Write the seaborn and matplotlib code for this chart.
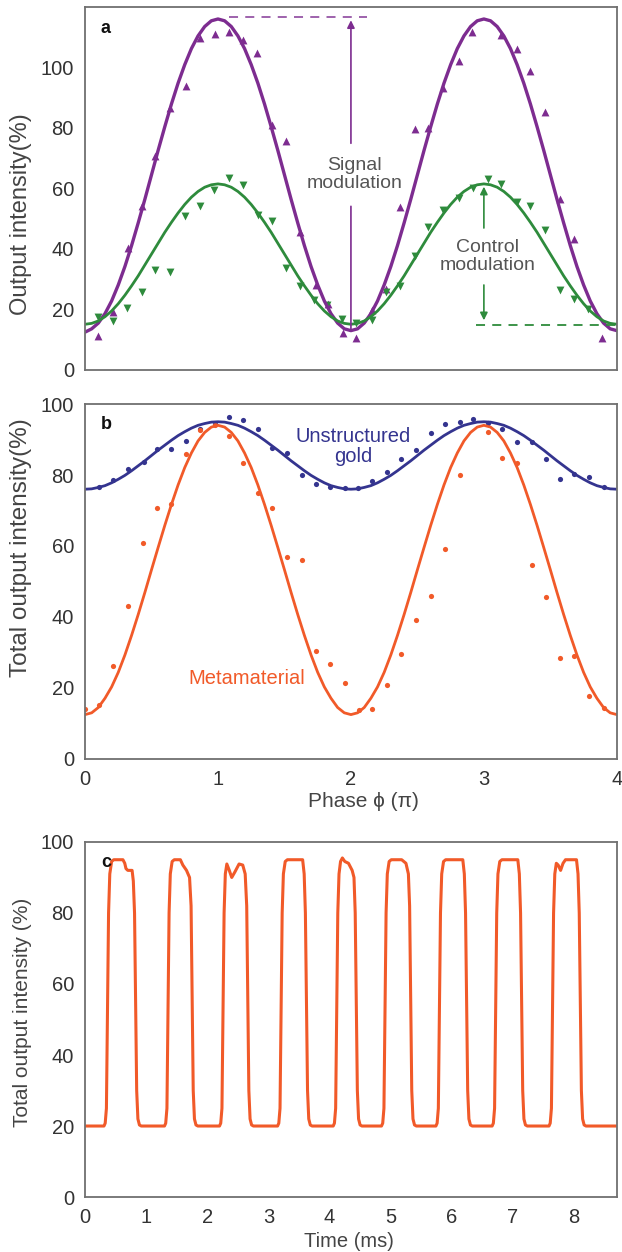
import matplotlib
matplotlib.use('Agg')
import matplotlib.pyplot as plt
import seaborn as sns

# ---- data ----
# panel a / b fitted curves, sampled every 0.05 pi
phase_fit = [0.00, 0.05, 0.10, 0.15, 0.20, 0.25, 0.30, 0.35, 0.40, 0.45,
             0.50, 0.55, 0.60, 0.65, 0.70, 0.75, 0.80, 0.85, 0.90, 0.95,
             1.00, 1.05, 1.10, 1.15, 1.20, 1.25, 1.30, 1.35, 1.40, 1.45,
             1.50, 1.55, 1.60, 1.65, 1.70, 1.75, 1.80, 1.85, 1.90, 1.95,
             2.00, 2.05, 2.10, 2.15, 2.20, 2.25, 2.30, 2.35, 2.40, 2.45,
             2.50, 2.55, 2.60, 2.65, 2.70, 2.75, 2.80, 2.85, 2.90, 2.95,
             3.00, 3.05, 3.10, 3.15, 3.20, 3.25, 3.30, 3.35, 3.40, 3.45,
             3.50, 3.55, 3.60, 3.65, 3.70, 3.75, 3.80, 3.85, 3.90, 3.95, 4.00]
signal_fit = [12.5, 13.6, 15.5, 18.6, 22.8, 28.1, 34.2, 41.1, 48.6, 56.4,
              64.5, 72.6, 80.4, 87.9, 94.8, 100.9, 106.2, 110.4, 113.5, 115.4,
              116.0, 115.4, 113.5, 110.4, 106.2, 100.9, 94.8, 87.9, 80.4, 72.6,
              64.5, 56.4, 48.6, 41.1, 34.2, 28.1, 22.8, 18.6, 15.5, 13.6,
              13.0, 13.6, 15.5, 18.6, 22.8, 28.1, 34.2, 41.1, 48.6, 56.4,
              64.5, 72.6, 80.4, 87.9, 94.8, 100.9, 106.2, 110.4, 113.5, 115.4,
              116.0, 115.4, 113.5, 110.4, 106.2, 100.9, 94.8, 87.9, 80.4, 72.6,
              64.5, 56.4, 48.6, 41.1, 34.2, 28.1, 22.8, 18.6, 15.5, 13.6, 13.0]
control_fit = [15.1, 15.4, 16.2, 17.6, 19.5, 21.9, 24.7, 27.8, 31.1, 34.7,
               38.3, 41.9, 45.5, 48.8, 51.9, 54.7, 57.1, 59.0, 60.4, 61.2,
               61.5, 61.2, 60.4, 59.0, 57.1, 54.7, 51.9, 48.8, 45.5, 41.9,
               38.3, 34.7, 31.1, 27.8, 24.7, 21.9, 19.5, 17.6, 16.2, 15.4,
               15.1, 15.4, 16.2, 17.6, 19.5, 21.9, 24.7, 27.8, 31.1, 34.7,
               38.3, 41.9, 45.5, 48.8, 51.9, 54.7, 57.1, 59.0, 60.4, 61.2,
               61.5, 61.2, 60.4, 59.0, 57.1, 54.7, 51.9, 48.8, 45.5, 41.9,
               38.3, 34.7, 31.1, 27.8, 24.7, 21.9, 19.5, 17.6, 16.2, 15.4, 15.1]
gold_fit = [76.0, 76.1, 76.5, 77.0, 77.8, 78.8, 79.9, 81.2, 82.6, 84.0,
            85.5, 87.0, 88.4, 89.8, 91.1, 92.2, 93.2, 94.0, 94.5, 94.9,
            95.0, 94.9, 94.5, 94.0, 93.2, 92.2, 91.1, 89.8, 88.4, 87.0,
            85.5, 84.0, 82.6, 81.2, 79.9, 78.8, 77.8, 77.0, 76.5, 76.1,
            76.0, 76.1, 76.5, 77.0, 77.8, 78.8, 79.9, 81.2, 82.6, 84.0,
            85.5, 87.0, 88.4, 89.8, 91.1, 92.2, 93.2, 94.0, 94.5, 94.9,
            95.0, 94.9, 94.5, 94.0, 93.2, 92.2, 91.1, 89.8, 88.4, 87.0,
            85.5, 84.0, 82.6, 81.2, 79.9, 78.8, 77.8, 77.0, 76.5, 76.1, 76.0]
meta_fit = [12.5, 13.0, 14.5, 17.1, 20.3, 24.4, 29.3, 34.8, 40.7, 46.9,
            53.3, 59.6, 65.8, 71.7, 77.2, 82.1, 86.2, 89.6, 92.0, 93.5,
            94.0, 93.5, 92.0, 89.6, 86.2, 82.1, 77.2, 71.7, 65.8, 59.6,
            53.3, 46.9, 40.7, 34.8, 29.3, 24.4, 20.3, 17.1, 14.5, 13.0,
            12.5, 13.0, 14.5, 17.1, 20.3, 24.4, 29.3, 34.8, 40.7, 46.9,
            53.3, 59.6, 65.8, 71.7, 77.2, 82.1, 86.2, 89.6, 92.0, 93.5,
            94.0, 93.5, 92.0, 89.6, 86.2, 82.1, 77.2, 71.7, 65.8, 59.6,
            53.3, 46.9, 40.7, 34.8, 29.3, 24.4, 20.3, 17.1, 14.5, 13.0, 12.5]

# panel a measured points
signal_x = [0.10, 0.21, 0.32, 0.43, 0.53, 0.64, 0.756, 0.864, 0.975, 1.086, 1.186, 1.297,
            1.41, 1.51, 1.62, 1.74, 1.83, 1.94, 2.04, 2.16, 2.26, 2.37, 2.48, 2.58,
            2.69, 2.81, 2.91, 3.13, 3.25, 3.35, 3.46, 3.57, 3.68, 3.89]
signal_y = [11.3, 19.0, 40.2, 54.3, 70.7, 86.6, 94.0, 109.6, 111.0, 111.8, 109.1, 104.7,
            81.1, 75.7, 45.5, 28.2, 21.9, 12.1, 10.4, 19.7, 26.9, 53.7, 79.5, 80.0,
            93.2, 102.2, 111.6, 110.8, 106.0, 98.7, 85.3, 56.5, 43.3, 10.4]
control_x = [0.10, 0.207, 0.315, 0.43, 0.53, 0.64, 0.75, 0.864, 0.97, 1.083, 1.19, 1.30,
             1.41, 1.51, 1.62, 1.725, 1.82, 1.93, 2.04, 2.16, 2.26, 2.37, 2.48, 2.58,
             2.69, 2.81, 2.92, 3.03, 3.13, 3.25, 3.35, 3.46, 3.57, 3.68, 3.78]
control_y = [17.5, 16.1, 20.5, 25.8, 32.9, 32.3, 51.0, 54.3, 59.5, 63.4, 61.1, 51.2,
             49.3, 33.7, 27.7, 23.0, 21.6, 16.7, 15.4, 16.5, 25.8, 27.7, 37.8, 47.4,
             53.0, 56.7, 60.3, 63.1, 61.4, 55.4, 54.1, 46.1, 26.3, 23.3, 20.3]

# panel b measured points
gold_x = [0.108, 0.214, 0.32, 0.446, 0.54, 0.647, 0.76, 0.864, 0.975, 1.086, 1.19, 1.30,
          1.41, 1.52, 1.63, 1.74, 1.84, 1.955, 2.055, 2.16, 2.27, 2.38, 2.49, 2.60,
          2.71, 2.82, 2.92, 3.03, 3.14, 3.25, 3.36, 3.47, 3.57, 3.68, 3.79, 3.90]
gold_y = [76.5, 78.6, 81.8, 83.8, 87.2, 87.3, 89.6, 92.9, 94.4, 96.4, 95.5, 93.0,
          87.7, 86.1, 80.0, 77.4, 76.5, 76.3, 76.3, 78.3, 80.8, 84.6, 87.0, 91.7,
          94.3, 95.0, 95.7, 94.7, 92.9, 89.4, 89.2, 84.4, 78.9, 80.2, 79.4, 76.5]
meta_x = [0.0, 0.108, 0.214, 0.32, 0.436, 0.54, 0.647, 0.76, 0.864, 0.98, 1.086, 1.19,
          1.30, 1.41, 1.52, 1.63, 1.74, 1.84, 1.955, 2.06, 2.16, 2.27, 2.38, 2.49,
          2.60, 2.71, 2.82, 3.03, 3.14, 3.25, 3.36, 3.47, 3.57, 3.68, 3.79, 3.90]
meta_y = [14.1, 15.3, 26.3, 43.2, 60.8, 70.6, 71.9, 85.9, 92.7, 94.1, 91.0, 83.5,
          74.9, 70.6, 57.0, 56.1, 30.5, 26.8, 21.4, 13.9, 14.2, 20.9, 29.5, 39.2,
          46.0, 59.1, 80.0, 92.2, 84.7, 83.3, 54.7, 45.6, 28.4, 29.1, 17.6, 14.4]

# panel c time trace
time_ms = [0.00, 0.31, 0.33, 0.35, 0.385, 0.405, 0.435, 0.47, 0.62, 0.65, 0.67, 0.70, 0.77,
           0.79, 0.81, 0.845, 0.865, 0.89, 0.92,
           1.30, 1.32, 1.34, 1.375, 1.395, 1.425, 1.46, 1.56, 1.60, 1.66, 1.71, 1.735,
           1.77, 1.79, 1.815, 1.845,
           2.20, 2.22, 2.24, 2.275, 2.295, 2.32, 2.36, 2.40, 2.45, 2.52, 2.58, 2.62,
           2.645, 2.68, 2.70, 2.725, 2.755,
           3.15, 3.17, 3.19, 3.225, 3.245, 3.275, 3.31, 3.56, 3.585, 3.605, 3.64, 3.66,
           3.685, 3.715,
           4.06, 4.08, 4.10, 4.135, 4.155, 4.18, 4.21, 4.25, 4.31, 4.37, 4.40, 4.42,
           4.455, 4.475, 4.50, 4.53,
           4.85, 4.87, 4.89, 4.925, 4.945, 4.975, 5.01, 5.18, 5.25, 5.29, 5.31, 5.345,
           5.365, 5.39, 5.42,
           5.74, 5.76, 5.78, 5.815, 5.835, 5.865, 5.90, 6.18, 6.205, 6.225, 6.26, 6.28,
           6.305, 6.335,
           6.66, 6.68, 6.70, 6.735, 6.755, 6.785, 6.82, 7.08, 7.105, 7.125, 7.16, 7.18,
           7.205, 7.235,
           7.59, 7.61, 7.63, 7.665, 7.685, 7.71, 7.74, 7.78, 7.82, 7.86, 8.04, 8.065,
           8.085, 8.12, 8.14, 8.165, 8.195, 8.70]
trace_pct = [20, 20, 20.8, 25, 80, 91, 94.5, 95, 95, 94, 92.5, 92, 92,
             89, 80, 30, 22, 20.3, 20,
             20, 20.8, 25, 80, 91, 94.5, 95, 95, 93.5, 92, 90, 82,
             30, 22, 20.3, 20,
             20, 20.8, 25, 80, 91, 93.8, 92, 90, 91.5, 93.8, 93.5, 91,
             82, 30, 22, 20.3, 20,
             20, 20.8, 25, 80, 91, 94.5, 95, 95, 91, 80, 30, 22,
             20.3, 20,
             20, 20.8, 25, 80, 91, 94.5, 95.5, 94.5, 94, 92, 90, 80,
             30, 22, 20.3, 20,
             20, 20.8, 25, 80, 91, 94.5, 95, 95, 94, 91, 82, 30,
             22, 20.3, 20,
             20, 20.8, 25, 80, 91, 94.5, 95, 95, 91, 80, 30, 22,
             20.3, 20,
             20, 20.8, 25, 80, 91, 94.5, 95, 95, 91, 80, 30, 22,
             20.3, 20,
             20, 20.8, 25, 80, 91, 94, 93.5, 92, 94, 95, 95, 91,
             80, 30, 22, 20.3, 20, 20]

# annotation levels (panel a)
signal_top, signal_low = 116.5, 12.5
control_top, control_low = 61.5, 15.0

purple = '#7d2c90'
green = '#2e8b3c'
blue = '#34348f'
orange = '#f15a29'
grey = '#444444'

sns.set_theme(style='white')
plt.rcParams['font.family'] = ['Liberation Sans', 'DejaVu Sans']
plt.rcParams['axes.edgecolor'] = '#707070'
plt.rcParams['axes.linewidth'] = 1.3
plt.rcParams['xtick.color'] = '#707070'
plt.rcParams['xtick.labelcolor'] = '#333333'
plt.rcParams['ytick.labelcolor'] = '#333333'

fig = plt.figure(figsize=(6.22, 12.52), dpi=100)
ax_a = fig.add_axes([0.1367, 0.7045, 0.855, 0.290])
ax_b = fig.add_axes([0.1367, 0.3938, 0.855, 0.2835])
ax_c = fig.add_axes([0.1367, 0.0439, 0.855, 0.2836])

for ax in (ax_a, ax_b, ax_c):
    ax.tick_params(axis='x', direction='in', length=4, width=1.2, pad=8, labelsize=14.5)
    ax.tick_params(axis='y', length=0, pad=8, labelsize=14.5)
    for s in ax.spines.values():
        s.set_visible(True)

# ---- panel a ----
sns.lineplot(x=phase_fit, y=signal_fit, ax=ax_a, color=purple, lw=2.4)
sns.lineplot(x=phase_fit, y=control_fit, ax=ax_a, color=green, lw=2.0)
sns.scatterplot(x=signal_x, y=signal_y, ax=ax_a, color=purple, marker='^', s=32, linewidth=0)
sns.scatterplot(x=control_x, y=control_y, ax=ax_a, color=green, marker='v', s=32, linewidth=0)
ax_a.set_xlim(0, 4)
ax_a.set_ylim(0, 120)
ax_a.set_xticks([1, 2, 3])
ax_a.set_xticklabels([])
ax_a.set_yticks([0, 20, 40, 60, 80, 100])
ax_a.set_ylabel('Output intensity(%)', fontsize=17, color=grey)
ax_a.yaxis.set_label_coords(-0.1, 0.43)

ax_a.hlines(signal_top, 1.08, 2.12, colors=purple, linestyles=(0, (5, 4)), lw=1.3, alpha=0.8)
ax_a.annotate('', xy=(2.0, signal_top), xytext=(2.0, 74),
              arrowprops=dict(arrowstyle='-|>', color=purple, lw=1.2, mutation_scale=11))
ax_a.annotate('', xy=(2.0, signal_low), xytext=(2.0, 55),
              arrowprops=dict(arrowstyle='-', color=purple, lw=1.2))
ax_a.text(2.03, 64.5, 'Signal\nmodulation', ha='center', va='center', fontsize=14,
          color='#555555', linespacing=1.1)

ax_a.hlines(control_low, 2.94, 4.0, colors=green, linestyles=(0, (5, 4)), lw=1.3)
ax_a.annotate('', xy=(3.0, control_top), xytext=(3.0, 46),
              arrowprops=dict(arrowstyle='-|>', color=green, lw=1.2, mutation_scale=11))
ax_a.annotate('', xy=(3.0, control_low + 0.5), xytext=(3.0, 29),
              arrowprops=dict(arrowstyle='-|>', color=green, lw=1.2, mutation_scale=11))
ax_a.text(3.03, 37.5, 'Control\nmodulation', ha='center', va='center', fontsize=14,
          color='#555555', linespacing=1.1)
ax_a.text(0.03, 0.965, 'a', transform=ax_a.transAxes, fontsize=13, fontweight='bold',
          va='top', color='#111111')

# ---- panel b ----
sns.lineplot(x=phase_fit, y=gold_fit, ax=ax_b, color=blue, lw=2.0)
sns.lineplot(x=phase_fit, y=meta_fit, ax=ax_b, color=orange, lw=2.0)
sns.scatterplot(x=gold_x, y=gold_y, ax=ax_b, color=blue, s=14, linewidth=0)
sns.scatterplot(x=meta_x, y=meta_y, ax=ax_b, color=orange, s=14, linewidth=0)
ax_b.set_xlim(0, 4)
ax_b.set_ylim(0, 100)
ax_b.set_xticks([0, 1, 2, 3, 4])
ax_b.set_yticks([0, 20, 40, 60, 80, 100])
ax_b.set_ylabel('Total output intensity(%)', fontsize=17.5, color=grey)
ax_b.yaxis.set_label_coords(-0.1, 0.595)
ax_b.set_xlabel('Phase ϕ (π)', fontsize=15, color=grey)
ax_b.xaxis.set_label_coords(0.523, -0.094)
ax_b.text(2.02, 88, 'Unstructured\ngold', ha='center', va='center', fontsize=14.5,
          color=blue, linespacing=1.05)
ax_b.text(1.216, 22.8, 'Metamaterial', ha='center', va='center', fontsize=14.5, color=orange)
ax_b.text(0.03, 0.965, 'b', transform=ax_b.transAxes, fontsize=13, fontweight='bold',
          va='top', color='#111111')

# ---- panel c ----
sns.lineplot(x=time_ms, y=trace_pct, ax=ax_c, color=orange, lw=2.2)
ax_c.set_xlim(0, 8.7)
ax_c.set_ylim(0, 100)
ax_c.set_xticks([0, 1, 2, 3, 4, 5, 6, 7, 8])
ax_c.set_yticks([0, 20, 40, 60, 80, 100])
ax_c.set_ylabel('Total output intensity (%)', fontsize=15, color=grey)
ax_c.yaxis.set_label_coords(-0.1, 0.52)
ax_c.set_xlabel('Time (ms)', fontsize=14.5, color=grey)
ax_c.xaxis.set_label_coords(0.496, -0.098)
ax_c.text(0.03, 0.965, 'c', transform=ax_c.transAxes, fontsize=13, fontweight='bold',
          va='top', color='#111111')

fig.savefig('out.png', dpi=100)
